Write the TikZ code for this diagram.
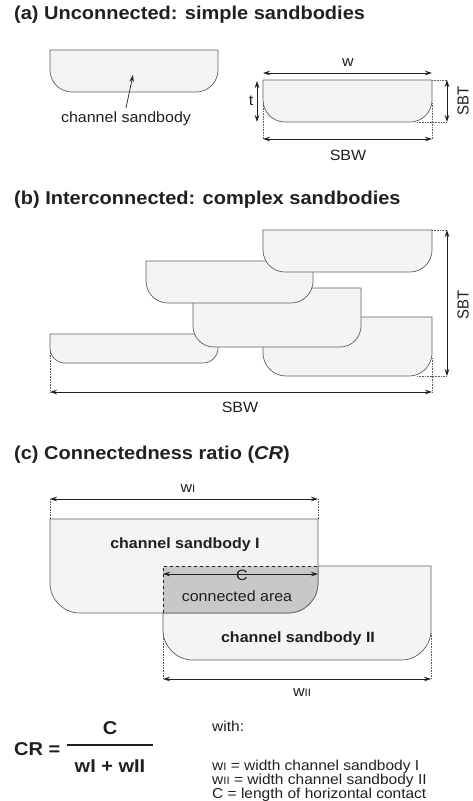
\documentclass[tikz,border=0pt]{standalone}
\usepackage{fontspec}
\setmainfont{Liberation Sans}
\usetikzlibrary{arrows.meta}

\definecolor{ink}{HTML}{231F20}
\definecolor{outline}{HTML}{5F6062}
\definecolor{sandfill}{HTML}{F3F4F3}
\definecolor{overlapfill}{HTML}{C7C8C8}

\tikzset{
  body/.style={draw=outline, fill=sandfill, line width=0.7pt},
  dimarrow/.style={{Stealth[length=7pt,width=4.5pt]}-{Stealth[length=7pt,width=4.5pt]}, draw=ink, line width=0.7pt},
  pointer/.style={-{Stealth[length=7pt,width=4.5pt]}, draw=ink, line width=0.7pt},
  guide/.style={densely dotted, draw=outline, line width=0.6pt},
  lbl/.style={font=\fontsize{16}{16}\selectfont, text=ink, inner sep=0pt, yscale=0.93},
  boldlbl/.style={lbl, font=\bfseries\fontsize{16}{16}\selectfont},
  leglbl/.style={lbl, font=\fontsize{15.5}{15.5}\selectfont, anchor=base west},
  ttl/.style={font=\bfseries\fontsize{20}{20}\selectfont, text=ink, inner sep=0pt, anchor=west, yscale=0.93},
}

% sandbody: left, top, right, bottom, corner radius
\newcommand{\sandbody}[5]{%
  \filldraw[body] (#1,#2) -- (#1,#4-#5) to[out=-90,in=180] (#1+#5,#4)
    -- (#3-#5,#4) to[out=0,in=-90] (#3,#4-#5) -- (#3,#2) -- cycle;}
\newcommand{\wsmall}[1]{w{\fontsize{11.5}{11.5}\selectfont #1}}

\begin{document}
\begin{tikzpicture}[x=1pt,y=-1pt]
    \useasboundingbox (0,0) rectangle (472,801);

    % (a) unconnected
    \node[ttl] (ttlA) at (14,15) {(a) Unconnected: simple sandbodies};
    \sandbody{50}{50}{218}{92}{22}
    \node[lbl] (cs) at (126,119) {channel sandbody};
    \coordinate (csTip) at (133,75);
    \draw[pointer] ([yshift=4pt]cs.north) -- (csTip);

    \sandbody{263}{80}{432}{122}{22}
    \coordinate (wL) at (263,73);
    \coordinate (wR) at (432,73);
    \draw[dimarrow] (wL) -- (wR);
    \node[lbl] (w) at (348,63) {w};
    \coordinate (tT) at (257,81);
    \coordinate (tB) at (257,122);
    \draw[dimarrow] (tT) -- (tB);
    \node[lbl] (t) at (251,101) {t};
    \coordinate (sbtT) at (447,80);
    \coordinate (sbtB) at (447,122);
    \draw[guide] (432,80) -- (sbtT);
    \draw[guide] (417,122) -- (sbtB);
    \draw[dimarrow] (sbtT) -- (sbtB);
    \node[lbl, rotate=90] (sbtA) at (463,101) {SBT};
    \coordinate (sbwL) at (263,139);
    \coordinate (sbwR) at (432,139);
    \draw[guide] (263,103) -- (sbwL);
    \draw[guide] (432,103) -- (sbwR);
    \draw[dimarrow] (sbwL) -- (sbwR);
    \node[lbl] (sbwA) at (348,155) {SBW};

    % (b) interconnected
    \node[ttl] (ttlB) at (14,200) {(b) Interconnected: complex sandbodies};
    \sandbody{50}{334}{218}{363}{15}
    \sandbody{263}{317}{432}{376}{23}
    \sandbody{193}{288}{361}{347}{21}
    \sandbody{146}{261}{313}{303}{22}
    \sandbody{263}{230}{432}{272}{22}
    \coordinate (sbtBT) at (447,230);
    \coordinate (sbtBB) at (447,376);
    \draw[guide] (432,230) -- (sbtBT);
    \draw[guide] (417,376) -- (sbtBB);
    \draw[dimarrow] (sbtBT) -- (sbtBB);
    \node[lbl, rotate=90] (sbtB) at (463,305) {SBT};
    \coordinate (sbwBL) at (50,392);
    \coordinate (sbwBR) at (432,392);
    \draw[guide] (50,350) -- (sbwBL);
    \draw[guide] (432,358) -- (sbwBR);
    \draw[dimarrow] (sbwBL) -- (sbwBR);
    \node[lbl] (sbwB) at (240,407) {SBW};

    % (c) connectedness ratio
    \node[ttl] (ttlC) at (14,455) {(c) Connectedness ratio (\textit{CR})};
    \sandbody{163}{566}{431}{660}{30}
    \sandbody{50}{519}{318}{613}{30}
    \fill[overlapfill] (163,566) -- (318,566) -- (318,583) to[out=-90,in=0] (288,613) -- (163,613) -- cycle;
    \draw[outline, line width=0.7pt] (318,566) -- (318,583) to[out=-90,in=0] (288,613) -- (163,613);
    \draw[dashed, draw=ink, line width=0.7pt] (163,613) -- (163,566) -- (318,566);
    \node[boldlbl] (sbI) at (185,545) {channel sandbody I};
    \node[boldlbl] (sbII) at (298,639) {channel sandbody II};
    \node[lbl] (area) at (237,596) {connected area};
    \coordinate (cL) at (163,574);
    \coordinate (cR) at (318,574);
    \draw[dimarrow] (cL) -- (cR);
    \node[lbl] (c) at (242,575) {C};
    \coordinate (wIL) at (50,499);
    \coordinate (wIR) at (318,499);
    \draw[guide] (50,519) -- (wIL);
    \draw[guide] (318,519) -- (wIR);
    \draw[dimarrow] (wIL) -- (wIR);
    \node[lbl] (wI) at (188,489) {\wsmall{I}};
    \coordinate (wIIL) at (163,679);
    \coordinate (wIIR) at (431,679);
    \draw[guide] (163,633) -- (wIIL);
    \draw[guide] (431,633) -- (wIIR);
    \draw[dimarrow] (wIIL) -- (wIIR);
    \node[lbl] (wII) at (302,693) {\wsmall{II}};

    % formula and legend
    \node[ttl] (cr) at (14,749) {CR =};
    \coordinate (barL) at (67,745);
    \coordinate (barR) at (153,745);
    \draw[ink, line width=1.6pt] (barL) -- (barR);
    \node[ttl, anchor=center] (num) at (110,728) {C};
    \node[ttl, anchor=center] (den) at (110,766) {wI + wII};
    \node[leglbl] (with) at (212,731) {with:};
    \node[leglbl] (legI) at (212,770) {\wsmall{I} = width channel sandbody I};
    \node[leglbl] (legII) at (212,784) {\wsmall{II} = width channel sandbody II};
    \node[leglbl] (legC) at (212,798) {C = length of horizontal contact};
\end{tikzpicture}
\end{document}
